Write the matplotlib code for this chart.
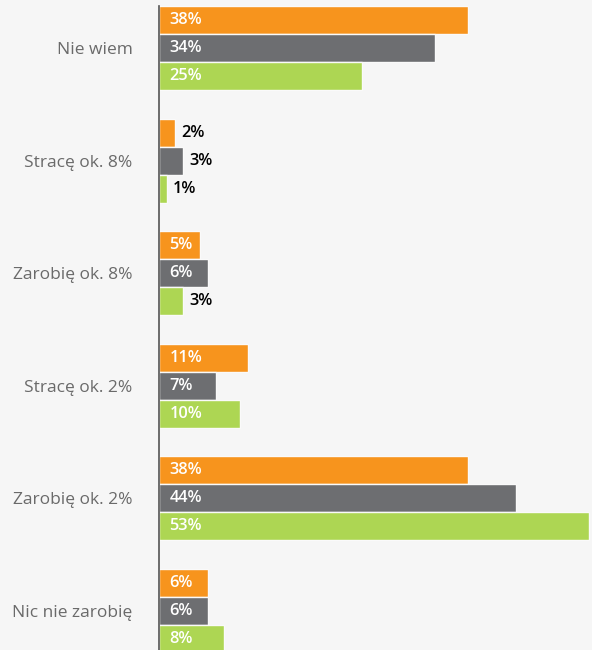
import matplotlib
matplotlib.use("Agg")
import matplotlib.pyplot as plt
import numpy as np

categories = ["Nie wiem", "Stracę ok. 8%", "Zarobię ok. 8%", "Stracę ok. 2%", "Zarobię ok. 2%", "Nic nie zarobię"]
series_orange = [38, 2, 5, 11, 38, 6]
series_gray = [34, 3, 6, 7, 44, 6]
series_green = [25, 1, 3, 10, 53, 8]

colors = ["#F7941D", "#6D6E71", "#ADD653"]
bg = "#F6F6F6"

W, H = 592, 650
fig = plt.figure(figsize=(W / 100, H / 100), dpi=100, facecolor=bg)
ax_left, ax_right, ax_top, ax_bottom = 159, 592, 6, 650
ax = fig.add_axes([ax_left / W, 1 - ax_bottom / H, (ax_right - ax_left) / W, (ax_bottom - ax_top) / H])
ax.set_facecolor(bg)

px_per_unit_x = 8.12
ax.set_xlim(0, (ax_right - ax_left) / px_per_unit_x)
ax.set_ylim(5.346, -0.373)

pitch = 0.2487
y = np.arange(len(categories))
font = ["Open Sans", "DejaVu Sans"]
for k, (vals, col) in enumerate(zip([series_orange, series_gray, series_green], colors)):
    yy = y + (k - 1) * pitch
    ax.barh(yy, vals, height=pitch, color=col, edgecolor="#FAFAFA", linewidth=1.0, zorder=2)
    for yi, v in zip(yy, vals):
        if v >= 5:
            ax.text(1.3, yi, f"{v}%", color="white", fontsize=11.8, fontweight="semibold",
                    va="center", ha="left", family=font, zorder=3)
        else:
            ax.text(v + 0.75, yi, f"{v}%", color="black", fontsize=11.8, fontweight="semibold",
                    va="center", ha="left", family=font, zorder=3)

ax.set_yticks(y)
ax.set_yticklabels(categories, fontsize=12.5, color="#6A6A6A", family=font)
ax.tick_params(axis="y", length=0, pad=19)
ax.set_xticks([])
for s in ["top", "right", "bottom"]:
    ax.spines[s].set_visible(False)
ax.spines["left"].set_color("#555555")
ax.spines["left"].set_linewidth(1.2)
ax.spines["left"].set_zorder(4)

fig.savefig("out.png", dpi=100, facecolor=bg)
